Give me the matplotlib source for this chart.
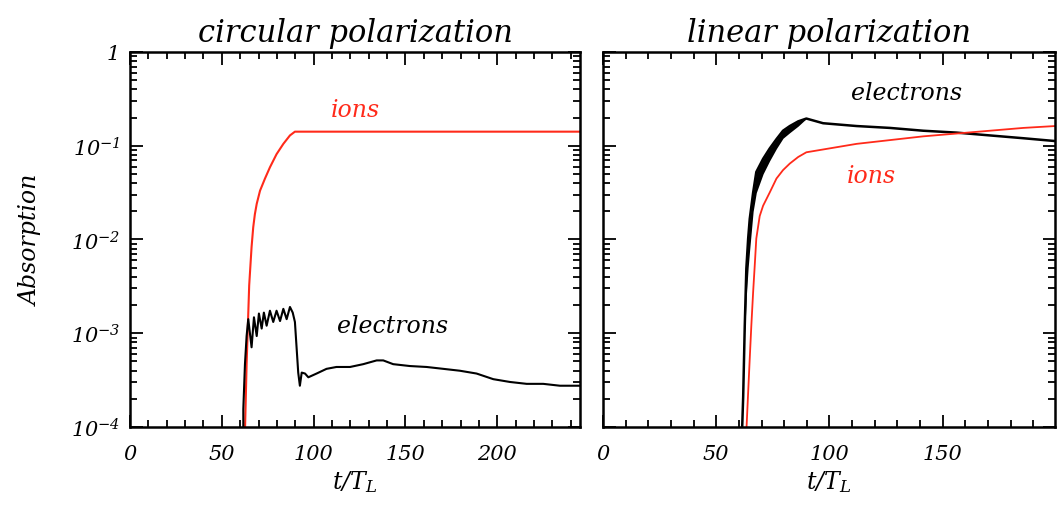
import matplotlib
matplotlib.use('Agg')
import matplotlib.pyplot as plt
import numpy as np
from matplotlib.ticker import FixedLocator, FixedFormatter, MultipleLocator, NullFormatter

plt.rcParams['font.family'] = 'DejaVu Serif'
plt.rcParams['font.style'] = 'italic'
plt.rcParams['mathtext.fontset'] = 'custom'
plt.rcParams['mathtext.rm'] = 'DejaVu Serif:italic'
plt.rcParams['mathtext.it'] = 'DejaVu Serif:italic'

RED = '#ff2a1a'

# circular polarization (log10 of absorption)
circ_ion_t = [62.6, 63.5, 64.9, 66.2, 67.1, 68.0, 69.0, 70.8, 73.5, 76.2, 79.8, 83.5, 87.1, 89.8, 245.0]
circ_ion_log = [-4.05, -3.33, -2.49, -2.08, -1.87, -1.73, -1.62, -1.48, -1.35, -1.23, -1.09, -0.98, -0.89,
                -0.85, -0.85]

circ_el_t = [61.7, 61.7, 62.6, 63.5, 64.4, 66.2, 67.5, 69.0, 70.2, 71.7, 72.9, 74.4, 76.2, 78.0, 79.8,
             81.7, 83.5, 85.3, 87.1, 88.6, 89.8, 90.7, 91.6, 92.5, 93.5, 95.3, 97.1, 101.6, 107.0, 112.4,
             119.8, 127.0, 134.3, 137.9, 143.3, 152.4, 161.5, 170.6, 179.6, 188.7, 197.8, 206.9, 216.0,
             225.0, 234.1, 245.0]
circ_el_log = [-4.1, -3.81, -3.33, -3.03, -2.85, -3.15, -2.83, -3.03, -2.79, -2.95, -2.78, -2.92, -2.76,
               -2.88, -2.76, -2.87, -2.74, -2.85, -2.72, -2.78, -2.88, -3.15, -3.42, -3.56, -3.42, -3.43,
               -3.47, -3.43, -3.38, -3.36, -3.36, -3.33, -3.29, -3.29, -3.33, -3.35, -3.36, -3.38, -3.40,
               -3.43, -3.49, -3.52, -3.54, -3.54, -3.56, -3.56]

# linear polarization
lin_ion_t = [63.3, 64.1, 64.8, 65.5, 66.3, 67.0, 67.7, 69.2, 70.7, 73.6, 76.6, 79.5, 82.5, 86.2, 89.8,
             97.2, 112.0, 126.7, 141.4, 156.1, 170.8, 185.6, 199.6]
lin_ion_log = [-4.05, -3.63, -3.27, -2.92, -2.56, -2.28, -1.99, -1.75, -1.64, -1.50, -1.35, -1.26, -1.19,
               -1.12, -1.07, -1.04, -0.98, -0.94, -0.90, -0.87, -0.84, -0.81, -0.79]

lin_el_t = [61.4, 61.9, 62.6, 63.3, 64.1, 64.8, 66.3, 67.7, 70.7, 73.6, 76.6, 79.5, 82.5, 86.2, 89.8,
            97.2, 112.0, 126.7, 141.4, 156.1, 170.8, 185.6, 199.6]
lin_el_log = [-4.05, -3.68, -2.92, -2.31, -1.99, -1.78, -1.50, -1.28, -1.14, -1.03, -0.93, -0.84, -0.79,
              -0.74, -0.71, -0.76, -0.79, -0.81, -0.84, -0.86, -0.89, -0.92, -0.95]
# lower edge of the oscillating electron band
lin_band_t = [62.6, 63.3, 64.1, 64.8, 66.3, 67.7, 70.7, 73.6, 76.6, 79.5, 82.5, 86.2, 89.8]
lin_band_upper = [-2.92, -2.31, -1.99, -1.78, -1.50, -1.28, -1.14, -1.03, -0.93, -0.84, -0.79, -0.74, -0.71]
lin_band_lower = [-3.00, -2.60, -2.30, -2.10, -1.70, -1.50, -1.30, -1.16, -1.03, -0.92, -0.86, -0.79, -0.71]

y_ticks = [1e-4, 1e-3, 1e-2, 1e-1, 1]
y_tick_labels = [r'$10^{-4}$', r'$10^{-3}$', r'$10^{-2}$', r'$10^{-1}$', '1']


def pw(vals):
    return 10 ** np.array(vals)


def style_axis(ax, xmax, ylabels):
    ax.set_yscale('log')
    ax.set_ylim(1e-4, 1)
    ax.set_xlim(0, xmax)
    ax.xaxis.set_major_locator(MultipleLocator(50))
    ax.xaxis.set_minor_locator(MultipleLocator(10))
    ax.yaxis.set_major_locator(FixedLocator(y_ticks))
    minors = [m * 10.0 ** e for e in range(-4, 0) for m in range(2, 10)]
    ax.yaxis.set_minor_locator(FixedLocator(minors))
    ax.yaxis.set_minor_formatter(NullFormatter())
    if ylabels:
        ax.yaxis.set_major_formatter(FixedFormatter(y_tick_labels))
    else:
        ax.yaxis.set_major_formatter(NullFormatter())
    ax.tick_params(which='both', direction='in', top=True, right=True, width=1.3)
    ax.tick_params(which='major', length=9, labelsize=15, pad=7)
    ax.tick_params(axis='x', which='major', pad=12)
    ax.tick_params(which='minor', length=5)
    for s in ax.spines.values():
        s.set_linewidth(1.8)
    ax.set_xlabel(r'$t/T_L$', fontsize=17, labelpad=4)


fig = plt.figure(figsize=(10.62, 5.06), dpi=100)
ax1 = fig.add_axes([0.1224, 0.1542, 0.4237, 0.7411])
ax2 = fig.add_axes([0.5678, 0.1542, 0.4256, 0.7411])

ax1.plot(circ_ion_t, pw(circ_ion_log), color=RED, lw=1.5)
ax1.plot(circ_el_t, pw(circ_el_log), color='black', lw=1.5)
style_axis(ax1, 245, True)
ax1.set_ylabel('Absorption', fontsize=17, labelpad=20)
ax1.set_title('circular polarization', fontsize=22, pad=8)
ax1.text(122.5, 10 ** -0.61, 'ions', color=RED, fontsize=17, ha='center', va='center')
ax1.text(143, 10 ** -2.92, 'electrons', color='black', fontsize=17, ha='center', va='center')

ax2.fill_between(lin_band_t, pw(lin_band_lower), pw(lin_band_upper), color='black', lw=0)
ax2.plot(lin_el_t, pw(lin_el_log), color='black', lw=1.8)
ax2.plot(lin_ion_t, pw(lin_ion_log), color=RED, lw=1.3)
style_axis(ax2, 199.6, False)
ax2.set_title('linear polarization', fontsize=22, pad=8)
ax2.text(134, 10 ** -0.43, 'electrons', color='black', fontsize=17, ha='center', va='center')
ax2.text(118.5, 10 ** -1.32, 'ions', color=RED, fontsize=17, ha='center', va='center')

fig.savefig('out.png', dpi=100)
